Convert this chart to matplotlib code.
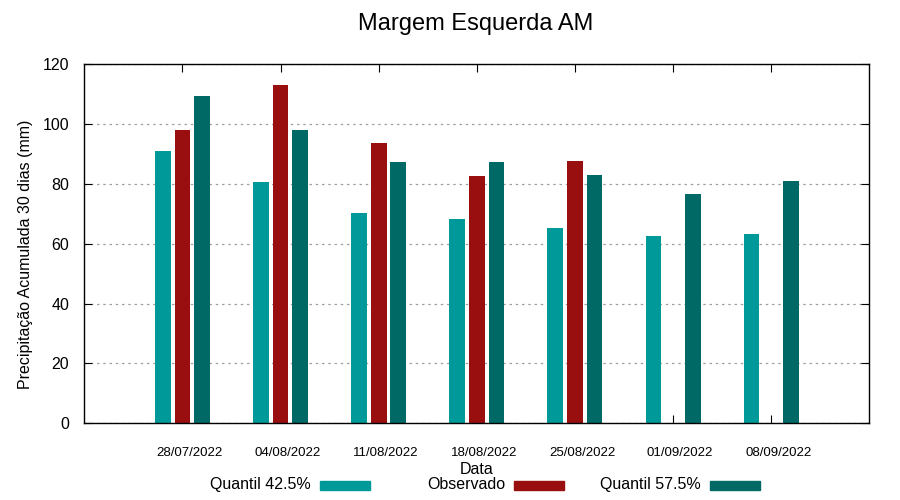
import matplotlib
matplotlib.use('Agg')
import matplotlib.pyplot as plt
import matplotlib.transforms as mtransforms
from matplotlib.patches import Rectangle
import numpy as np

plt.rcParams['font.family'] = ['Liberation Sans', 'DejaVu Sans']

# dados
datas = ['28/07/2022', '04/08/2022', '11/08/2022', '18/08/2022',
         '25/08/2022', '01/09/2022', '08/09/2022']
q425 = [91.0, 80.6, 70.3, 68.3, 65.3, 62.6, 63.3]
observado = [98.0, 113.1, 93.7, 82.7, 87.7, np.nan, np.nan]
q575 = [109.4, 98.0, 87.4, 87.4, 83.0, 76.7, 81.0]

series = [('Quantil 42.5%', q425, '#009999'),
          ('Observado', observado, '#990f0f'),
          ('Quantil 57.5%', q575, '#006966')]

fig = plt.figure(figsize=(9, 5), dpi=100)
ax = fig.add_axes([0.0937, 0.1534, 0.9659 - 0.0937, 0.8714 - 0.1534])

x = np.arange(len(datas))
offsets = [-0.2, 0.0, 0.2]
for (nome, vals, cor), off in zip(series, offsets):
    ax.bar(x + off, vals, width=0.16, color=cor, zorder=2)

ax.set_xlim(-1, 7)
ax.set_ylim(0, 120)
ax.set_yticks(np.arange(0, 121, 20))
ax.set_xticks(x)
ax.set_xticklabels(datas, fontsize=9.5)
ax.tick_params(axis='y', labelsize=11.5, direction='in', right=True, length=6, pad=11)
ax.tick_params(axis='x', direction='in', top=True, length=6, pad=17)
# rotulos do eixo x deslocados um pouco para a direita
shift = mtransforms.ScaledTranslation(7 / 100, 0, fig.dpi_scale_trans)
for lbl in ax.get_xticklabels():
    lbl.set_transform(lbl.get_transform() + shift)

ax.set_axisbelow(True)
ax.grid(axis='y', color='#a0a0a0', linestyle=(0, (2, 3)), linewidth=0.9)
for s in ax.spines.values():
    s.set_linewidth(1.0)
    s.set_zorder(3)

ax.set_ylabel('Precipitação Acumulada 30 dias (mm)', fontsize=11.5, labelpad=5)
ax.yaxis.set_label_coords(-0.066, 0.47)
ax.set_xlabel('Data', fontsize=11.5, labelpad=2)
fig.text(0.529, 0.952, 'Margem Esquerda AM', ha='center', va='center', fontsize=17)

# legenda no estilo gnuplot: texto alinhado a direita e amostra de cor
text_right = [311, 505, 701]
for (nome, vals, cor), xr in zip(series, text_right):
    fig.text(xr / 900, 1 - 489 / 500, nome, ha='right', va='baseline', fontsize=11.5)
    fig.patches.append(Rectangle(((xr + 9) / 900, 1 - 489.5 / 500), 50 / 900, 9 / 500,
                                 transform=fig.transFigure, color=cor, figure=fig))

fig.savefig('out.png', dpi=100)
